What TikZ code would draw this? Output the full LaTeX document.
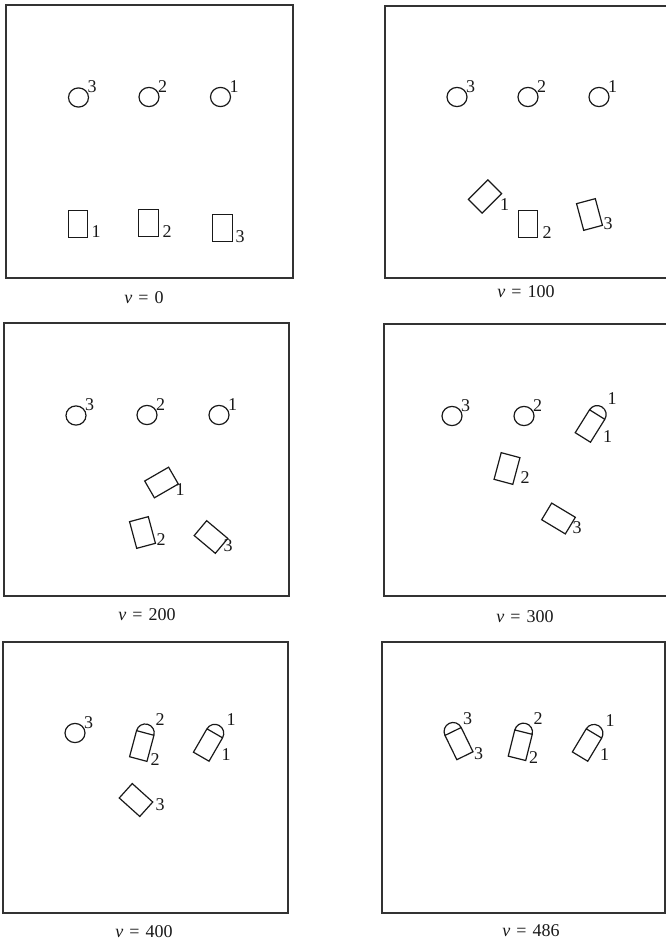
\documentclass[tikz,border=0pt]{standalone}
\usepackage{fontspec}
\setmainfont{Liberation Serif}
\usetikzlibrary{calc}
\tikzset{
  frame/.style={line width=1.5pt, draw=black!80},
  obj/.style={line width=1.2pt, draw=black!90},
  lab/.style={font=\fontsize{18}{18}\selectfont, inner sep=0pt, text=black!90},
  caption/.style={font=\fontsize{18}{18}\selectfont, inner sep=0pt, anchor=base, text=black!90}
}
\newcommand\ring[4]{%
  \draw[obj] (#2,#3) ellipse[x radius=10pt, y radius=9.6pt];
  \node[lab] (#1) at ($(#2,#3)+(13.5,-10.5)$) {#4};}
\newcommand\plate[3]{%
  \draw[obj,shift={(#1,#2)},rotate=#3] (-9.7,-13.8) -- (9.7,-13.8) -- (9.7,13.8) -- (-9.7,13.8) -- cycle;}
\newcommand\capsule[3]{%
  \draw[obj,shift={(#1,#2)},rotate=#3] (-9,-13.5) -- (9,-13.5) -- (9,13.5) -- (-9,13.5) -- cycle
     (-9,-13.5) arc[start angle=180,end angle=0,radius=9pt];}
\newcommand\vlab[1]{{\itshape v}\hspace{6pt}=\hspace{6pt}#1}
\begin{document}
\begin{tikzpicture}[x=1pt,y=-1pt]
\useasboundingbox (0,0) rectangle (666,942);
\fill[white] (0,0) rectangle (666,942);
\clip (0,0) rectangle (666,942);

% ---------- panel 1 : v = 0
\draw[frame] (6,5) rectangle (293,278);
\ring{p1c3}{78.5}{97.5}{3}
\ring{p1c2}{149}{97}{2}
\ring{p1c1}{220.5}{97}{1}
\plate{78}{224}{0}    \node[lab] (p1r1) at (96,232) {1};
\plate{148.5}{223}{0} \node[lab] (p1r2) at (167,232) {2};
\plate{222.5}{228}{0} \node[lab] (p1r3) at (240,237) {3};
\node[caption] (t1) at (144,303) {\vlab{0}};

% ---------- panel 2 : v = 100
\draw[frame] (385,6) rectangle (670,278);
\ring{p2c3}{457}{97}{3}
\ring{p2c2}{528}{97}{2}
\ring{p2c1}{599}{97}{1}
\plate{485}{196.5}{-45}  \node[lab] (p2r1) at (504.5,205) {1};
\plate{528}{224}{0}      \node[lab] (p2r2) at (547,232.5) {2};
\plate{589.5}{214.5}{15} \node[lab] (p2r3) at (608,224) {3};
\node[caption] (t2) at (526,297) {\vlab{100}};

% ---------- panel 3 : v = 200
\draw[frame] (4,323) rectangle (289,596);
\ring{p3c3}{76}{415.5}{3}
\ring{p3c2}{147}{415}{2}
\ring{p3c1}{219}{415}{1}
\plate{161.5}{482.5}{-60} \node[lab] (p3r1) at (180,490) {1};
\plate{142.5}{532.5}{15}  \node[lab] (p3r2) at (161,540) {2};
\plate{211}{537}{50}      \node[lab] (p3r3) at (228,546) {3};
\node[caption] (t3) at (147,620) {\vlab{200}};

% ---------- panel 4 : v = 300
\draw[frame] (384,324) rectangle (670,596);
\ring{p4c3}{452}{416}{3}
\ring{p4c2}{524}{416}{2}
\capsule{590}{426}{-32}
\node[lab] (p4s1) at (612,399) {1};
\node[lab] (p4r1) at (607.5,436.5) {1};
\plate{507}{468.5}{-15}  \node[lab] (p4r2) at (525,478) {2};
\plate{558.5}{518.5}{59} \node[lab] (p4r3) at (577,528) {3};
\node[caption] (t4) at (525,622) {\vlab{300}};

% ---------- panel 5 : v = 400
\draw[frame] (3,642) rectangle (288,913);
\ring{p5c3}{75}{733}{3}
\capsule{141.75}{746}{-15}
\node[lab] (p5s2) at (160,719.5) {2};
\node[lab] (p5r2) at (155,760) {2};
\capsule{208}{745}{-30}
\node[lab] (p5s1) at (231,720) {1};
\node[lab] (p5r1) at (226,755) {1};
\plate{136}{800}{48} \node[lab] (p5r3) at (160,805) {3};
\node[caption] (t5) at (144,937) {\vlab{400}};

% ---------- panel 6 : v = 486
\draw[frame] (382,642) rectangle (665,913);
\capsule{459}{743.6}{26}
\node[lab] (p6s3) at (467.5,719) {3};
\node[lab] (p6r3) at (478.5,754) {3};
\capsule{520.25}{745.25}{-14}
\node[lab] (p6s2) at (538,719) {2};
\node[lab] (p6r2) at (533.5,758) {2};
\capsule{587}{745}{-31}
\node[lab] (p6s1) at (610,721) {1};
\node[lab] (p6r1) at (604.5,755) {1};
\node[caption] (t6) at (531,936) {\vlab{486}};
\end{tikzpicture}
\end{document}
